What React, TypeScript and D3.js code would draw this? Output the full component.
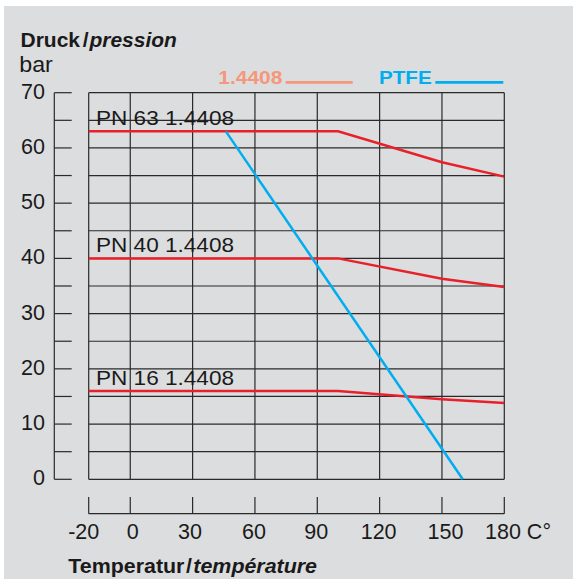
import React from "react";
import * as d3 from "d3";

const W = 573;
const H = 581;

// Data
const tempTicks = [-20, 0, 30, 60, 90, 120, 150, 180];
const pressureTicks = [0, 10, 20, 30, 40, 50, 60, 70];
const gridPressures = [0, 5, 10, 15, 20, 25, 30, 35, 40, 45, 50, 55, 60, 65, 70];
const steelTemps = [-20, 100, 150, 180];
const pn63 = [63, 63, 57.4, 54.8];
const pn40 = [40, 40, 36.3, 34.8];
const pn16 = [16, 16, 14.5, 13.8];
const ptfeTemps = [46, 160];
const ptfeValues = [63, 0];
const seriesLabels = ["PN 63 1.4408", "PN 40 1.4408", "PN 16 1.4408"];

const FONT = "'Liberation Sans', Arial, Helvetica, sans-serif";
const RED = "#e8202a";
const SALMON = "#f5977a";
const BLUE = "#00aeef";
const GRID = "#2a2a2a";
const INK = "#1a1a1a";

// small per-label horizontal nudges (px) to mimic the reference typesetting
const xLabelNudge: Record<number, number> = { [-20]: -5, 0: 2.5, 30: -2.7, 60: -1, 90: -1, 120: -1, 150: 3.6 };

function T(props: {
  x: number;
  y: number;
  sx?: number;
  anchor?: string;
  size?: number;
  weight?: string;
  fill?: string;
  children: React.ReactNode;
}) {
  const { x, y, sx = 1, anchor = "start", size = 21.5, weight = "normal", fill = INK, children } = props;
  return (
    <g transform={`translate(${x},${y}) scale(${sx},1)`}>
      <text x={0} y={0} textAnchor={anchor} fontSize={size} fontWeight={weight} fill={fill}>
        {children}
      </text>
    </g>
  );
}

export default function App() {
  const x = d3.scaleLinear().domain([-20, 180]).range([88.7, 504.3]);
  const y = d3.scaleLinear().domain([0, 70]).range([479.3, 92.7]);

  const line = d3
    .line<[number, number]>()
    .x((d) => x(d[0]))
    .y((d) => y(d[1]));

  const steelSeries = [pn63, pn40, pn16].map((vals) =>
    steelTemps.map((t, i) => [t, vals[i]] as [number, number])
  );
  const ptfe = ptfeTemps.map((t, i) => [t, ptfeValues[i]] as [number, number]);

  const axisX = 54.3;
  const axisY = 513.7;

  return (
    <div style={{ position: "absolute", left: 0, top: 0 }}>
      <svg width={W} height={H} style={{ display: "block" }} fontFamily={FONT}>
        <rect x={0} y={0} width={W} height={H} fill="#ffffff" />
        <rect x={4} y={6} width={W - 4} height={H - 8} fill="#dcdddf" />

        {/* Title */}
        <T x={20.5} y={47} sx={1.05} size={20} weight="bold">
          Druck<tspan dx={2.6}>/</tspan>
          <tspan dx={0.8} fontStyle="italic">pression</tspan>
        </T>
        <T x={19.3} y={72} sx={1.08}>
          bar
        </T>

        {/* Grid */}
        {gridPressures.map((p) => (
          <line key={"h" + p} x1={x(-20)} x2={x(180)} y1={y(p)} y2={y(p)} stroke={GRID} strokeWidth={1.2} />
        ))}
        {tempTicks.map((t) => (
          <line key={"v" + t} x1={x(t)} x2={x(t)} y1={y(0)} y2={y(70)} stroke={GRID} strokeWidth={1.2} />
        ))}

        {/* Left axis */}
        <line x1={axisX} x2={axisX} y1={y(0)} y2={y(70)} stroke={GRID} strokeWidth={1.2} />
        {gridPressures.map((p) => (
          <line key={"lt" + p} x1={axisX} x2={71.7} y1={y(p)} y2={y(p)} stroke={GRID} strokeWidth={1.2} />
        ))}
        {pressureTicks.map((p) => (
          <T key={"yl" + p} x={45} y={y(p) + 6} anchor="end">
            {p}
          </T>
        ))}

        {/* Bottom axis */}
        <line x1={x(-20)} x2={x(180)} y1={axisY} y2={axisY} stroke={GRID} strokeWidth={1.2} />
        {tempTicks.map((t) => (
          <line key={"bt" + t} x1={x(t)} x2={x(t)} y1={497} y2={axisY} stroke={GRID} strokeWidth={1.2} />
        ))}
        {tempTicks.map((t) => {
          if (t === 180) {
            return (
              <T key={"xl" + t} x={x(t) - 19.3} y={538.5}>
                {t} C°
              </T>
            );
          }
          return (
            <T key={"xl" + t} x={x(t) + (xLabelNudge[t] || 0)} y={538.5} anchor="middle">
              {t}
            </T>
          );
        })}
        <T x={68.3} y={572.5} sx={1.07} size={20} weight="bold">
          Temperatur<tspan dx={1.6}>/</tspan>
          <tspan dx={1.2} fontStyle="italic">température</tspan>
        </T>

        {/* Legend */}
        <text x={218.3} y={84.3} fontSize={19} fontWeight="bold" fill={SALMON} textLength={64} lengthAdjust="spacingAndGlyphs">
          1.4408
        </text>
        <line x1={285.7} x2={352.7} y1={82.3} y2={82.3} stroke={SALMON} strokeWidth={2.7} />
        <text x={379} y={84.3} fontSize={19} fontWeight="bold" fill={BLUE} textLength={52.7} lengthAdjust="spacingAndGlyphs">
          PTFE
        </text>
        <line x1={435.3} x2={503.3} y1={82.3} y2={82.3} stroke={BLUE} strokeWidth={2.7} />

        {/* Series labels */}
        {steelSeries.map((s, i) => (
          <text
            key={"sl" + i}
            x={96}
            y={y(s[0][1]) - 6}
            fontSize={20.5}
            fill={INK}
            textLength={138}
            lengthAdjust="spacingAndGlyphs"
          >
            {seriesLabels[i]}
          </text>
        ))}

        {/* Lines */}
        {steelSeries.map((s, i) => (
          <path key={"s" + i} d={line(s) || ""} fill="none" stroke={RED} strokeWidth={2.5} />
        ))}
        <path d={line(ptfe) || ""} fill="none" stroke={BLUE} strokeWidth={2.5} />
      </svg>
    </div>
  );
}
